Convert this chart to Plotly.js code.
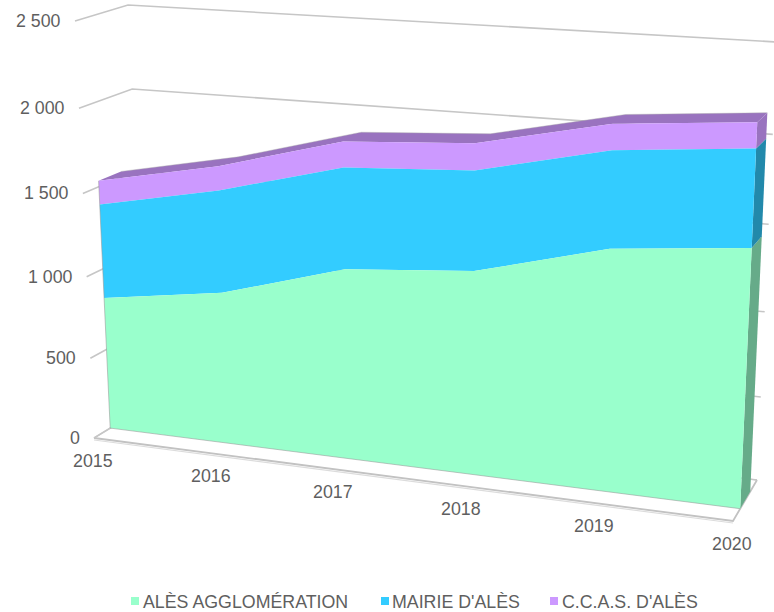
<!DOCTYPE html>
<html><head><meta charset="utf-8">
<script src="https://cdn.plot.ly/plotly-3.0.1.min.js"></script>
<style>html,body{margin:0;padding:0;background:#fff}#c{width:774px;height:612px}</style></head>
<body><div id="c"></div>
<script>
const categories=['2015','2016','2017','2018','2019','2020'];
const agglo=[821,929,1144,1206,1404,1478];
const mairie=[571,611,590,571,544,536];
const ccas=[143,142,149,152,143,139];
const seriesNames=['ALÈS AGGLOMÉRATION',"MAIRIE D'ALÈS",'C.C.A.S. D\'ALÈS'];
const valueTicks=[0,500,1000,1500,2000,2500];
const valueLabels=['0','500','1 000','1 500','2 000','2 500'];
const frontColors=['#99FFCC','#33CCFF','#CC99FF'];
const sideColors=['#66AB89','#2289AB','#9973BF'];
const legendKeyX=[135,385,554];
const legendTextX=[143,392,562];
const VMAX=2500, DF=0.30, DB=0.72;

function homog(q){ // unit square to quad
  const [p0,p1,p2,p3]=q;
  const sx=p0[0]-p1[0]+p2[0]-p3[0], sy=p0[1]-p1[1]+p2[1]-p3[1];
  const dx1=p1[0]-p2[0], dx2=p3[0]-p2[0], dy1=p1[1]-p2[1], dy2=p3[1]-p2[1];
  const den=dx1*dy2-dx2*dy1;
  const g=(sx*dy2-dx2*sy)/den, h=(dx1*sy-sx*dy1)/den;
  const a=p1[0]-p0[0]+g*p1[0], b=p3[0]-p0[0]+h*p3[0], c=p0[0];
  const d=p1[1]-p0[1]+g*p1[1], e=p3[1]-p0[1]+h*p3[1], f=p0[1];
  return (u,v)=>{const w=g*u+h*v+1;return [(a*u+b*v+c)/w,(d*u+e*v+f)/w];};
}
const H0=homog([[94,438],[733,521],[753,62],[75,21]]);
const H1=homog([[148,405],[757,480],[777,42],[128,5]]);
function P(t,v,d){
  const a=H0(t/5,v/VMAX), b=H1(t/5,v/VMAX);
  return [a[0]+(b[0]-a[0])*d, a[1]+(b[1]-a[1])*d];
}
const idx=categories.map((_,i)=>i);
const series=[agglo,mairie,ccas];
let cum=[idx.map(()=>0)];
series.forEach((s,k)=>cum.push(idx.map(i=>cum[k][i]+s[i])));

const traces=[];
function poly(pts,color){
  traces.push({type:'scatter',mode:'lines',x:pts.map(p=>p[0]).concat(pts[0][0]),y:pts.map(p=>p[1]).concat(pts[0][1]),
    fill:'toself',fillcolor:color,line:{width:0,color:color},hoverinfo:'skip',showlegend:false});
}
function line(pts,color,w){
  traces.push({type:'scatter',mode:'lines',x:pts.map(p=>p[0]),y:pts.map(p=>p[1]),
    line:{width:w,color:color},hoverinfo:'skip',showlegend:false});
}
const GRID='#c6c6c6';
// walls
valueTicks.forEach(v=>{ line([P(0,v,0),P(0,v,1),P(5,v,1)],GRID,1.6); });
// floor
line([P(0,0,0),P(5,0,0),P(5,0,1)],'#c2c2c2',1.8);
line([P(0,0,0),P(0,0,1),P(5,0,1)],GRID,1.2);
{const a=P(0,0,0),b=P(5,0,0);line([[a[0],a[1]+2],[b[0],b[1]+2]],'#dcdcdc',1.2);}
// top strip
const totals=cum[3];
poly(idx.map(i=>P(i,totals[i],DF)).concat(idx.slice().reverse().map(i=>P(i,totals[i],DB))),sideColors[2]);
// side faces
for(let k=0;k<3;k++){
  poly([P(5,cum[k][5],DF),P(5,cum[k+1][5],DF),P(5,cum[k+1][5],DB),P(5,cum[k][5],DB)],sideColors[k]);
}
// front faces
for(let k=2;k>=0;k--){
  poly(idx.map(i=>P(i,cum[k+1][i],DF)).concat(idx.slice().reverse().map(i=>P(i,cum[k][i],DF))),frontColors[k]);
}
// edges
line(idx.slice().reverse().map(i=>P(i,0,DF)).concat([P(0,totals[0],DF)]),'rgba(150,150,150,0.7)',0.8);
line(idx.map(i=>P(i,totals[i],DB)),'rgba(170,170,170,0.6)',0.7);
// legend keys
traces.push({type:'scatter',mode:'markers',x:legendKeyX,y:[601,601,601],
  marker:{symbol:'square',size:8,color:frontColors},hoverinfo:'skip',showlegend:false});

const font={family:'"Liberation Sans",Arial,sans-serif',size:17.8,color:'#5f5f5f'};
const ann=[];
valueTicks.forEach((v,i)=>{const p=P(0,v,0);
  ann.push({x:p[0]-14,y:p[1],text:valueLabels[i],showarrow:false,xanchor:'right',yanchor:'middle',font});});
categories.forEach((c,i)=>{const p=P(i,0,0);
  ann.push({x:p[0]-1,y:p[1]+23,text:c,showarrow:false,xanchor:'center',yanchor:'middle',font});});
seriesNames.forEach((n,i)=>{
  ann.push({x:legendTextX[i],y:602,text:n,showarrow:false,xanchor:'left',yanchor:'middle',font});});
ann.forEach(a=>{a.xref='x';a.yref='y';a.borderpad=0;a.borderwidth=0;});

Plotly.newPlot('c',traces,{
  width:774,height:612,margin:{l:0,r:0,t:0,b:0},paper_bgcolor:'#fff',plot_bgcolor:'#fff',showlegend:false,
  xaxis:{range:[0,774],visible:false,fixedrange:true},
  yaxis:{range:[612,0],visible:false,fixedrange:true},
  annotations:ann
},{displayModeBar:false,staticPlot:true});
</script></body></html>
